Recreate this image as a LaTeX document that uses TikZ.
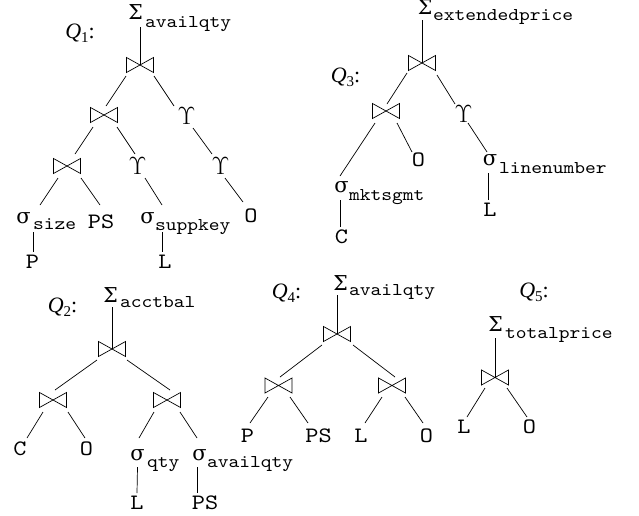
\documentclass[tikz,border=0pt]{standalone}
\usepackage{fontspec}
\setmainfont{Liberation Serif}
\newfontfamily\grk{DejaVu Serif}
\newfontfamily\cour{lmmono10-regular.otf}[FakeStretch=1.14]
\begin{document}
\begin{tikzpicture}[x=1pt,y=-1pt,
  every node/.style={inner sep=0pt,outer sep=0pt},
  bt/.style={minimum width=27pt,minimum height=15pt},
  sig/.style={font=\grk\fontsize{21}{21}\selectfont},
  bigsig/.style={font=\grk\fontsize{20.5}{20.5}\selectfont},
  ups/.style={font=\fontsize{25}{25}\selectfont},
  rel/.style={font=\cour\fontsize{22}{22}\selectfont},
  sub/.style={font=\cour\fontsize{18}{18}\selectfont,anchor=base west},
  qlab/.style={font=\fontsize{22}{22}\selectfont},
  edge/.style={line width=0.7pt}]
\useasboundingbox (0,0) rectangle (639,515);
\newcommand{\qlabel}[1]{\textit{Q}\raisebox{-4pt}{\fontsize{15}{15}\selectfont #1}:}
\newcommand{\ups}{$\Upsilon$}
% ---------- Q1 ----------
\node[qlab] (q1) at (80,33) {\qlabel{1}};
\node[bigsig] (S1) at (135.5,12.5) {Σ};
\node[sub] (S1s) at (145,27) {availqty};
\node[bt] (b1) at (140,65) {};
\node[bt] (b2) at (104,115) {};
\node[ups] (u1) at (186.5,116) {\ups};
\node[bt] (b3) at (67,166) {};
\node[ups] (u2) at (137.5,166) {\ups};
\node[ups] (u3) at (220.5,166) {\ups};
\node[sig] (g1) at (23.5,218) {σ};
\node[sub] (g1s) at (33,229) {size};
\node[rel] (ps1) at (101,221.5) {PS};
\node[sig] (g2) at (147.5,218) {σ};
\node[sub] (g2s) at (155,230) {suppkey};
\node[rel] (o1) at (251,216) {O};
\node[rel] (p1) at (32.5,262) {P};
\node[rel] (l1) at (165,262) {L};
\draw[edge] (b1.center) -- (b1.center |- S1s.base);
\draw[edge] ([shift={(-14,11)}]b1.center) -- ([shift={(2,-9)}]b2.center);
\draw[edge] ([shift={(14,11)}]b1.center) -- ([shift={(-12.5,-10)}]u1.center);
\draw[edge] ([shift={(-11,12)}]b2.center) -- ([shift={(8,-12)}]b3.center);
\draw[edge] ([shift={(13,12)}]b2.center) -- ([shift={(-2.5,-12)}]u2.center);
\draw[edge] ([shift={(6.5,12)}]u1.center) -- ([shift={(-8.5,-12)}]u3.center);
\draw[edge] ([shift={(-9,12)}]b3.center) -- ([shift={(16.5,-13)}]g1.center);
\draw[edge] ([shift={(14,12)}]b3.center) -- ([shift={(-1,-16.5)}]ps1.center);
\draw[edge] ([shift={(7.5,12)}]u2.center) -- ([shift={(14.5,-13)}]g2.center);
\draw[edge] ([shift={(4.5,12)}]u3.center) -- ([shift={(-8,-14)}]o1.center);
\draw[edge] ([shift={(9.5,14)}]g1.center) -- ([shift={(0.5,-3)}]p1.north);
\draw[edge] ([shift={(14.5,14)}]g2.center) -- ([shift={(-3,-3)}]l1.north);
% ---------- Q3 ----------
\node[qlab] (q3) at (345.5,77.5) {\qlabel{3}};
\node[bigsig] (S3) at (425,7) {Σ};
\node[sub] (S3s) at (433,20) {extendedprice};
\node[bt] (b4) at (422,63) {};
\node[bt] (b5) at (386,111) {};
\node[ups] (u4) at (463.5,114) {\ups};
\node[rel] (o3) at (418.5,160) {O};
\node[sig] (g3) at (490,160) {σ};
\node[sub] (g3s) at (499,173) {linenumber};
\node[rel] (l3) at (490,210) {L};
\node[sig] (g4) at (341.5,187.5) {σ};
\node[sub] (g4s) at (349,200) {mktsgmt};
\node[rel] (c3) at (341.5,236.5) {C};
\draw[edge] (b4.center) -- (b4.center |- S3s.base);
\draw[edge] ([shift={(-15,10)}]b4.center) -- ([shift={(1,-7)}]b5.center);
\draw[edge] ([shift={(15,12)}]b4.center) -- ([shift={(-8.5,-10)}]u4.center);
\draw[edge] ([shift={(-11,12)}]b5.center) -- ([shift={(-1.5,-11.5)}]g4.center);
\draw[edge] ([shift={(11,12)}]b5.center) -- ([shift={(-6.5,-8)}]o3.center);
\draw[edge] ([shift={(4.5,9)}]u4.center) -- ([shift={(-3,-8)}]g3.center);
\draw[edge] ([shift={(-2,13)}]g3.center) -- ([shift={(-2,-10)}]l3.center);
\draw[edge] ([shift={(-1.5,12.5)}]g4.center) -- ([shift={(-1.5,-9.5)}]c3.center);
% ---------- Q2 ----------
\node[qlab] (q2) at (62.5,307) {\qlabel{2}};
\node[bigsig] (S2) at (110.5,295) {Σ};
\node[sub] (S2s) at (120,307) {acctbal};
\node[bt] (b6) at (112,349) {};
\node[bt] (b7) at (53,400) {};
\node[bt] (b8) at (167,400) {};
\node[rel] (c2) at (20,449) {C};
\node[rel] (o2) at (86.5,449) {O};
\node[sig] (g5) at (137.5,455.5) {σ};
\node[sub] (g5s) at (147,467) {qty};
\node[sig] (g6) at (199.5,455.5) {σ};
\node[sub] (g6s) at (207,467) {availqty};
\node[rel] (l2) at (137,502.5) {L};
\node[rel] (ps2) at (205,502.5) {PS};
\draw[edge] (b6.center) -- (b6.center |- S2s.base);
\draw[edge] ([shift={(-15,11)}]b6.center) -- ([shift={(2,-10)}]b7.center);
\draw[edge] ([shift={(15,11)}]b6.center) -- ([shift={(3,-10)}]b8.center);
\draw[edge] ([shift={(-10,12)}]b7.center) -- ([shift={(7,-11)}]c2.center);
\draw[edge] ([shift={(15,12)}]b7.center) -- ([shift={(-1.5,-11)}]o2.center);
\draw[edge] ([shift={(-13,12)}]b8.center) -- ([shift={(1.5,-17.5)}]g5.center);
\draw[edge] ([shift={(13,12)}]b8.center) -- ([shift={(-2.5,-17.5)}]g6.center);
\draw[edge] ([shift={(0,11.5)}]g5.center) -- ([shift={(0,-9.5)}]l2.center);
\draw[edge] ([shift={(-2.5,11.5)}]g6.center) -- ([shift={(-8,-9.5)}]ps2.center);
% ---------- Q4 ----------
\node[qlab] (q4) at (286.5,293) {\qlabel{4}};
\node[bigsig] (S4) at (340.5,283) {Σ};
\node[sub] (S4s) at (349,295) {availqty};
\node[bt] (b9) at (337,334) {};
\node[bt] (b10) at (278.5,385.5) {};
\node[bt] (b11) at (392,385.5) {};
\node[rel] (p4) at (247.5,436) {P};
\node[rel] (ps4) at (318.5,435.5) {PS};
\node[rel] (l4) at (361,435.5) {L};
\node[rel] (o4) at (426.5,435.5) {O};
\draw[edge] (b9.center) -- (b9.center |- S4s.base);
\draw[edge] ([shift={(-15,11)}]b9.center) -- ([shift={(1.5,-8.5)}]b10.center);
\draw[edge] ([shift={(16,11)}]b9.center) -- ([shift={(3,-8.5)}]b11.center);
\draw[edge] ([shift={(-10.5,11.5)}]b10.center) -- ([shift={(2.5,-13)}]p4.center);
\draw[edge] ([shift={(11.5,11.5)}]b10.center) -- ([shift={(-10.5,-12.5)}]ps4.center);
\draw[edge] ([shift={(-10,11.5)}]b11.center) -- ([shift={(4,-12.5)}]l4.center);
\draw[edge] ([shift={(13,11.5)}]b11.center) -- ([shift={(-3.5,-12.5)}]o4.center);
% ---------- Q5 ----------
\node[qlab] (q5) at (534,292.5) {\qlabel{5}};
\node[bigsig] (S5) at (495.5,324.5) {Σ};
\node[sub] (S5s) at (505,338) {totalprice};
\node[bt] (b12) at (495,377.5) {};
\node[rel] (l5) at (464,426.5) {L};
\node[rel] (o5) at (529.5,426.5) {O};
\draw[edge] (b12.center) -- (b12.center |- S5s.base);
\draw[edge] ([shift={(-10,10.5)}]b12.center) -- ([shift={(3,-9.5)}]l5.center);
\draw[edge] ([shift={(12,10.5)}]b12.center) -- ([shift={(-2.5,-9.5)}]o5.center);
% ---------- bowties ----------
\foreach \n in {b1,b2,b3,b4,b5,b6,b7,b8,b9,b10,b11,b12}
  \draw[edge] (\n.north west) -- (\n.south east) -- (\n.north east) -- (\n.south west) -- cycle;
\end{tikzpicture}
\end{document}
